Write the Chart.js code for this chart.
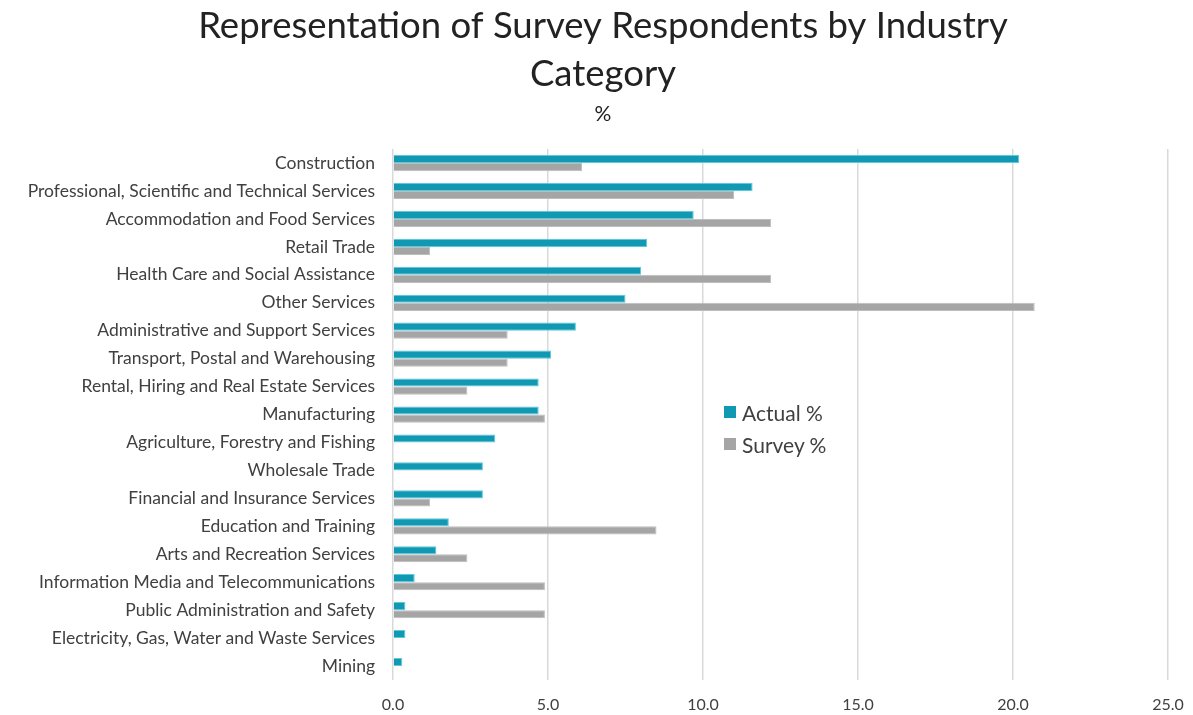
<!DOCTYPE html>
<html>
<head>
<meta charset="utf-8">
<script src="https://cdn.jsdelivr.net/npm/chart.js@4/dist/chart.umd.min.js"></script>
<style>
  body { margin: 0; background: #fff; }
  #wrap { position: relative; width: 1193px; height: 715px; }
  #legend { position: absolute; left: 724px; top: 396px; font-family: Lato, "Open Sans", sans-serif; font-size: 21px; color: #404040; }
  #legend div { display: flex; align-items: center; height: 32px; }
  #legend span.box { display: inline-block; width: 12px; height: 12px; margin-right: 6px; }
</style>
</head>
<body>
<div id="wrap">
  <canvas id="bar-chart" width="1193" height="715"></canvas>
  <div id="legend"></div>
</div>
<script>
const industries = [
	"Construction",
	"Professional, Scientific and Technical Services",
	"Accommodation and Food Services",
	"Retail Trade",
	"Health Care and Social Assistance",
	"Other Services",
	"Administrative and Support Services",
	"Transport, Postal and Warehousing",
	"Rental, Hiring and Real Estate Services",
	"Manufacturing",
	"Agriculture, Forestry and Fishing",
	"Wholesale Trade",
	"Financial and Insurance Services",
	"Education and Training",
	"Arts and Recreation Services",
	"Information Media and Telecommunications",
	"Public Administration and Safety",
	"Electricity, Gas, Water and Waste Services",
	"Mining"
];
const actualPct = [20.2, 11.6, 9.7, 8.2, 8.0, 7.5, 5.9, 5.1, 4.7, 4.7, 3.3, 2.9, 2.9, 1.8, 1.4, 0.7, 0.4, 0.4, 0.3];
const surveyPct = [6.1, 11.0, 12.2, 1.2, 12.2, 20.7, 3.7, 3.7, 2.4, 4.9, 0, 0, 1.2, 8.5, 2.4, 4.9, 4.9, 0, 0];
const xTicks = [0, 5, 10, 15, 20, 25];

const fontFamily = 'Lato, "Open Sans", sans-serif';

const ctx = document.getElementById("bar-chart");
const myChart = new Chart(ctx, {
	type: 'bar',
	data: {
		labels: industries,
		datasets: [{
			label: 'Actual %',
			data: actualPct,
			backgroundColor: '#1198B2',
			borderColor: '#5CC9DC',
			borderWidth: 1,
		}, {
			label: 'Survey %',
			data: surveyPct,
			backgroundColor: '#A5A5A5',
			borderColor: '#BDBDBD',
			borderWidth: 1,
		}]
	},
	options: {
		indexAxis: 'y',
		responsive: false,
		animation: false,
		layout: { padding: { top: 3, right: 0, bottom: 0, left: 13 } },
		datasets: { bar: { categoryPercentage: 0.58, barPercentage: 1.0 } },
		plugins: {
			legend: { display: false },
			tooltip: { enabled: false },
			title: {
				display: true,
				text: ['Representation of Survey Respondents by Industry', 'Category'],
				color: '#222',
				font: { family: fontFamily, size: 36.5, weight: 'normal', lineHeight: 1.3 },
				padding: { top: 0, bottom: 4 },
			},
			subtitle: {
				display: true,
				text: '%',
				color: '#222',
				font: { family: fontFamily, size: 21, weight: 'normal' },
				padding: { top: 0, bottom: 22 },
			}
		},
		scales: {
			x: {
				min: 0,
				max: 25,
				afterBuildTicks: (scale) => { scale.ticks = xTicks.map(v => ({ value: v })); },
				afterFit: (scale) => {
					scale.height = 35;
					scale.paddingLeft = 0;
					scale.paddingRight = 0;
				},
				ticks: {
					color: '#404040',
					font: { family: fontFamily, size: 16 },
					padding: 15,
					maxRotation: 0,
					callback: (v) => Number(v).toFixed(1),
				},
				grid: { color: '#D9D9D9', lineWidth: 1.5, drawTicks: false },
				border: { display: false },
			},
			y: {
				afterFit: (scale) => { scale.width = 380; },
				ticks: {
					color: '#404040',
					font: { family: fontFamily, size: 17.5 },
					padding: 18,
					autoSkip: false,
				},
				grid: { display: false, drawTicks: false },
				border: { display: false },
			},
			yRight: {
				position: 'right',
				afterFit: (scale) => { scale.width = 25; },
				ticks: { display: false },
				grid: { display: false, drawTicks: false },
				border: { display: false },
			}
		}
	}
});

const legendEl = document.getElementById('legend');
myChart.data.datasets.forEach(ds => {
	const row = document.createElement('div');
	row.innerHTML = '<span class="box" style="background:' + ds.backgroundColor + '"></span>' + ds.label;
	legendEl.appendChild(row);
});
</script>
</body>
</html>
